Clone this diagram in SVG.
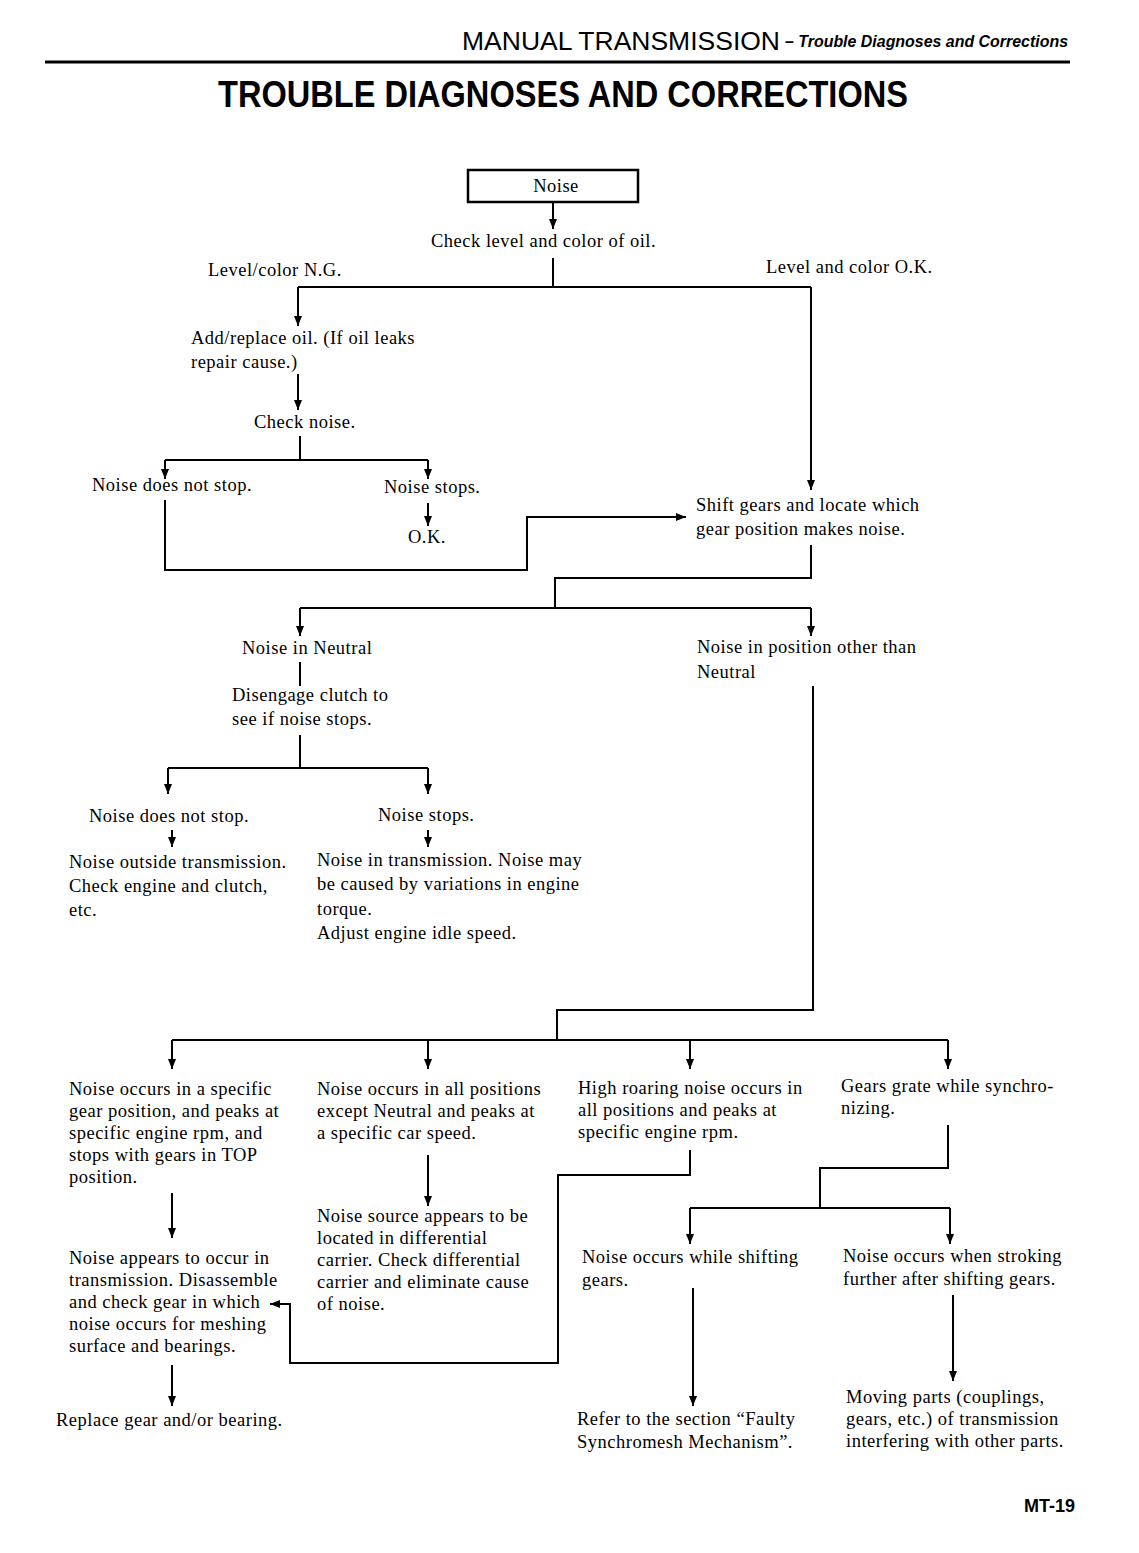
<svg xmlns="http://www.w3.org/2000/svg" width="1139" height="1553" viewBox="0 0 1139 1553">
<defs>
<marker id="ah" markerUnits="userSpaceOnUse" markerWidth="10" markerHeight="10" refX="10" refY="4" orient="auto">
<path d="M0,0 L10,4 L0,8 z" fill="#000"/>
</marker>
<style>
.t{font-family:"Liberation Serif","Times New Roman",serif;font-size:18.5px;letter-spacing:0.5px;fill:#000}
.c{fill:none;stroke:#000;stroke-width:2}
.a{fill:none;stroke:#000;stroke-width:2;marker-end:url(#ah)}
</style>
</defs>
<rect width="1139" height="1553" fill="#fff"/>
<g id="header">
<text x="462" y="50" font-family="Liberation Sans,Arial,sans-serif" font-size="26" textLength="318" lengthAdjust="spacingAndGlyphs">MANUAL TRANSMISSION</text>
<text x="785" y="47" font-family="Liberation Sans,Arial,sans-serif" font-size="17" font-style="italic" font-weight="bold" textLength="283" lengthAdjust="spacingAndGlyphs">– Trouble Diagnoses and Corrections</text>
<line x1="45" y1="62" x2="1070" y2="62" stroke="#000" stroke-width="3"/>
<text x="218" y="107" font-family="Liberation Sans,Arial,sans-serif" font-size="36" font-weight="bold" textLength="690" lengthAdjust="spacingAndGlyphs">TROUBLE DIAGNOSES AND CORRECTIONS</text>
</g>
<g id="connectors">
<line class="a" x1="553" y1="202" x2="553" y2="229"/>
<path class="c" d="M553 258 V287 M298 287 H811"/>
<line class="a" x1="298" y1="287" x2="298" y2="326"/>
<line class="a" x1="811" y1="287" x2="811" y2="490"/>
<line class="a" x1="298" y1="374" x2="298" y2="410"/>
<path class="c" d="M300 436 V460 M165 460 H428"/>
<line class="a" x1="165" y1="460" x2="165" y2="479"/>
<line class="a" x1="428" y1="460" x2="428" y2="479"/>
<line class="a" x1="428" y1="503" x2="428" y2="526"/>
<path class="a" d="M165 500 V570 H527 V517 H686"/>
<path class="c" d="M811 545 V578 H555 V608 M300 608 H811"/>
<line class="a" x1="300" y1="608" x2="300" y2="636"/>
<line class="a" x1="811" y1="608" x2="811" y2="636"/>
<line class="c" x1="300" y1="662" x2="300" y2="686"/>
<path class="c" d="M300 735 V768 M168 768 H428"/>
<line class="a" x1="168" y1="768" x2="168" y2="794"/>
<line class="a" x1="428" y1="768" x2="428" y2="794"/>
<line class="a" x1="172" y1="830" x2="172" y2="847"/>
<line class="a" x1="428" y1="830" x2="428" y2="847"/>
<path class="c" d="M813 686 V1010 H557 V1040 M172 1040 H948"/>
<line class="a" x1="172" y1="1040" x2="172" y2="1069"/>
<line class="a" x1="428" y1="1040" x2="428" y2="1069"/>
<line class="a" x1="690" y1="1040" x2="690" y2="1069"/>
<line class="a" x1="948" y1="1040" x2="948" y2="1069"/>
<line class="a" x1="172" y1="1193" x2="172" y2="1238"/>
<line class="a" x1="428" y1="1155" x2="428" y2="1206"/>
<path class="a" d="M690 1150 V1175 H558 V1363 H290 V1304 H270"/>
<path class="c" d="M948 1125 V1168 H820 V1208 M690 1208 H950"/>
<line class="a" x1="690" y1="1208" x2="690" y2="1244"/>
<line class="a" x1="950" y1="1208" x2="950" y2="1244"/>
<line class="a" x1="693" y1="1288" x2="693" y2="1406"/>
<line class="a" x1="953" y1="1295" x2="953" y2="1381"/>
<line class="a" x1="172" y1="1365" x2="172" y2="1406"/>
</g>
<g id="noise">
<rect x="468" y="170" width="170" height="32" fill="none" stroke="#000" stroke-width="2.5"/>
<text class="t" x="556" y="192" text-anchor="middle">Noise</text>
</g>
<g id="check-oil"><text class="t" x="431" y="247">Check level and color of oil.</text></g>
<g id="ng"><text class="t" x="208" y="276">Level/color N.G.</text></g>
<g id="ok-level"><text class="t" x="766" y="273">Level and color O.K.</text></g>
<g id="add-oil"><text class="t" x="191" y="344">Add/replace oil. (If oil leaks</text><text class="t" x="191" y="368">repair cause.)</text></g>
<g id="check-noise"><text class="t" x="254" y="428">Check noise.</text></g>
<g id="not-stop-1"><text class="t" x="92" y="491">Noise does not stop.</text></g>
<g id="stops-1"><text class="t" x="384" y="493">Noise stops.</text></g>
<g id="ok"><text class="t" x="408" y="543">O.K.</text></g>
<g id="shift"><text class="t" x="696" y="511">Shift gears and locate which</text><text class="t" x="696" y="535">gear position makes noise.</text></g>
<g id="neutral"><text class="t" x="242" y="654">Noise in Neutral</text></g>
<g id="other"><text class="t" x="697" y="653">Noise in position other than</text><text class="t" x="697" y="678">Neutral</text></g>
<g id="disengage"><text class="t" x="232" y="701">Disengage clutch to</text><text class="t" x="232" y="725">see if noise stops.</text></g>
<g id="not-stop-2"><text class="t" x="89" y="822">Noise does not stop.</text></g>
<g id="stops-2"><text class="t" x="378" y="821">Noise stops.</text></g>
<g id="outside"><text class="t" x="69" y="868">Noise outside transmission.</text><text class="t" x="69" y="892">Check engine and clutch,</text><text class="t" x="69" y="916">etc.</text></g>
<g id="in-trans"><text class="t" x="317" y="866">Noise in transmission. Noise may</text><text class="t" x="317" y="890">be caused by variations in engine</text><text class="t" x="317" y="915">torque.</text><text class="t" x="317" y="939">Adjust engine idle speed.</text></g>
<g id="specific"><text class="t" x="69" y="1095">Noise occurs in a specific</text><text class="t" x="69" y="1117">gear position, and peaks at</text><text class="t" x="69" y="1139">specific engine rpm, and</text><text class="t" x="69" y="1161">stops with gears in TOP</text><text class="t" x="69" y="1183">position.</text></g>
<g id="all-pos"><text class="t" x="317" y="1095">Noise occurs in all positions</text><text class="t" x="317" y="1117">except Neutral and peaks at</text><text class="t" x="317" y="1139">a specific car speed.</text></g>
<g id="roaring"><text class="t" x="578" y="1094">High roaring noise occurs in</text><text class="t" x="578" y="1116">all positions and peaks at</text><text class="t" x="578" y="1138">specific engine rpm.</text></g>
<g id="grate"><text class="t" x="841" y="1092">Gears grate while synchro-</text><text class="t" x="841" y="1114">nizing.</text></g>
<g id="diff"><text class="t" x="317" y="1222">Noise source appears to be</text><text class="t" x="317" y="1244">located in differential</text><text class="t" x="317" y="1266">carrier. Check differential</text><text class="t" x="317" y="1288">carrier and eliminate cause</text><text class="t" x="317" y="1310">of noise.</text></g>
<g id="disassemble"><text class="t" x="69" y="1264">Noise appears to occur in</text><text class="t" x="69" y="1286">transmission. Disassemble</text><text class="t" x="69" y="1308">and check gear in which</text><text class="t" x="69" y="1330">noise occurs for meshing</text><text class="t" x="69" y="1352">surface and bearings.</text></g>
<g id="shifting"><text class="t" x="582" y="1263">Noise occurs while shifting</text><text class="t" x="582" y="1286">gears.</text></g>
<g id="stroking"><text class="t" x="843" y="1262">Noise occurs when stroking</text><text class="t" x="843" y="1285">further after shifting gears.</text></g>
<g id="replace"><text class="t" x="56" y="1426">Replace gear and/or bearing.</text></g>
<g id="refer"><text class="t" x="577" y="1425">Refer to the section “Faulty</text><text class="t" x="577" y="1448">Synchromesh Mechanism”.</text></g>
<g id="moving"><text class="t" x="846" y="1403">Moving parts (couplings,</text><text class="t" x="846" y="1425">gears, etc.) of transmission</text><text class="t" x="846" y="1447">interfering with other parts.</text></g>
<g id="footer"><text x="1024" y="1512" font-family="Liberation Sans,Arial,sans-serif" font-size="18" font-weight="bold">MT-19</text></g>
</svg>
